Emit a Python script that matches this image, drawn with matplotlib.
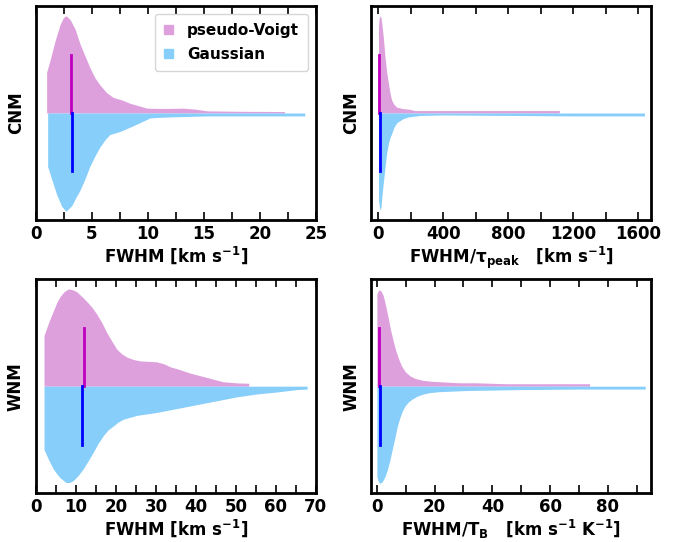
import numpy as np
import matplotlib.pyplot as plt
from matplotlib.patches import Patch
from matplotlib.ticker import MultipleLocator

plt.rcParams['font.family'] = 'DejaVu Sans'
plt.rcParams['font.weight'] = 'bold'
plt.rcParams['mathtext.fontset'] = 'dejavusans'
plt.rcParams['mathtext.default'] = 'bf'

pv_color = '#dda0dd'
ga_color = '#87cefa'

# CNM, FWHM  (x, half width of the violin, peak = 1)
cnm_fwhm_x_pv = [0.95, 1.25, 1.7, 2.15, 2.45, 2.68, 3.05, 3.5, 3.93, 4.36, 4.8, 5.27, 5.7, 6.3,
                 6.9, 7.65, 8.4, 9.3, 9.9, 10.8, 12.0, 13.1, 14.2, 15.3, 18.0, 22.2]
cnm_fwhm_w_pv = [0.42, 0.54, 0.74, 0.91, 0.98, 1.0, 0.96, 0.86, 0.71, 0.59, 0.47, 0.36, 0.29, 0.21,
                 0.16, 0.135, 0.10, 0.07, 0.05, 0.047, 0.047, 0.05, 0.04, 0.022, 0.018, 0.015]
cnm_fwhm_x_ga = [1.04, 1.4, 1.85, 2.3, 2.68, 3.2, 3.6, 3.9, 4.36, 4.8, 5.27, 5.7, 6.2, 6.6, 7.5,
                 8.1, 8.7, 9.45, 10.2, 11.0, 12.0, 15.3, 20.0, 24.0]
cnm_fwhm_w_ga = [0.55, 0.68, 0.84, 0.96, 1.01, 0.95, 0.86, 0.80, 0.68, 0.55, 0.44, 0.35, 0.27, 0.22, 0.19,
                 0.16, 0.13, 0.09, 0.05, 0.045, 0.04, 0.03, 0.03, 0.03]
cnm_fwhm_med = [3.1, 3.2]

# CNM, FWHM / tau_peak
cnm_tau_x_pv = [0.5, 4, 10, 16, 21, 30, 41, 50, 62, 72, 82, 95, 113, 150, 185, 226, 400, 800, 1115]
cnm_tau_w_pv = [0.88, 0.97, 1.0, 0.98, 0.92, 0.78, 0.57, 0.43, 0.30, 0.20, 0.13, 0.09, 0.06, 0.045,
                0.04, 0.025, 0.025, 0.025, 0.025]
cnm_tau_x_ga = [0.5, 6, 12, 17, 21, 30, 41, 50, 62, 72, 82, 95, 113, 150, 185, 260, 390, 800, 1200, 1640]
cnm_tau_w_ga = [0.89, 0.97, 1.0, 0.95, 0.86, 0.72, 0.55, 0.42, 0.31, 0.25, 0.21, 0.15, 0.10, 0.06,
                0.04, 0.025, 0.02, 0.025, 0.03, 0.03]
cnm_tau_med = [6, 7]

# WNM, FWHM
wnm_fwhm_x_pv = [2.0, 3.2, 4.3, 5.2, 6.0, 7.0, 8.1, 9.2, 10.2, 11.5, 12.7, 14.0, 15.2, 16.5, 17.7,
                 19.0, 20.2, 21.5, 22.7, 24.3, 26.0, 28.0, 30.2, 32.0, 33.5, 36.0, 38.5, 42.7,
                 46.8, 50.2, 53.2]
wnm_fwhm_w_pv = [0.52, 0.66, 0.77, 0.86, 0.92, 0.97, 1.0, 0.99, 0.97, 0.92, 0.87, 0.81, 0.74, 0.65, 0.55,
                 0.46, 0.38, 0.33, 0.30, 0.275, 0.26, 0.255, 0.25, 0.23, 0.20, 0.17, 0.135, 0.09,
                 0.045, 0.034, 0.03]
wnm_fwhm_x_ga = [2.0, 3.2, 4.3, 5.2, 6.0, 7.5, 8.4, 9.3, 10.5, 11.8, 13.0, 14.3, 15.5, 16.8, 18.0,
                 19.3, 20.5, 21.8, 23.5, 25.2, 30.2, 35.2, 40.2, 45.2, 50.2, 55.2, 60.2, 65.2, 67.8]
wnm_fwhm_w_ga = [0.65, 0.76, 0.85, 0.90, 0.94, 0.99, 0.99, 0.97, 0.92, 0.85, 0.77, 0.68, 0.59, 0.51, 0.45,
                 0.41, 0.37, 0.34, 0.32, 0.30, 0.27, 0.23, 0.19, 0.15, 0.11, 0.08, 0.06, 0.035, 0.03]
wnm_fwhm_med = [12.0, 11.5]

# WNM, FWHM / T_B
wnm_tb_x_pv = [0.0, 0.7, 1.4, 2.2, 3.1, 4.0, 4.8, 5.7, 6.5, 7.4, 8.5, 9.8, 11.5, 13.2, 16.0, 19.0,
               28.3, 34.0, 45.0, 60.0, 73.7]
wnm_tb_w_pv = [0.95, 0.99, 0.98, 0.93, 0.82, 0.69, 0.57, 0.46, 0.37, 0.29, 0.21, 0.15, 0.105, 0.08,
               0.06, 0.05, 0.035, 0.035, 0.025, 0.025, 0.025]
wnm_tb_x_ga = [0.0, 0.5, 1.0, 1.9, 2.8, 3.6, 4.5, 5.4, 6.3, 7.1, 8.0, 8.9, 9.8, 11.0, 12.1, 13.8,
               15.6, 18.0, 21.4, 30.6, 50.0, 70.0, 93.0]
wnm_tb_w_ga = [0.93, 0.98, 1.0, 0.98, 0.93, 0.86, 0.76, 0.64, 0.52, 0.41, 0.32, 0.25, 0.20, 0.16, 0.135,
               0.105, 0.085, 0.068, 0.057, 0.045, 0.035, 0.03, 0.03]
wnm_tb_med = [0.8, 1.1]

panels = [
    (cnm_fwhm_x_pv, cnm_fwhm_w_pv, cnm_fwhm_x_ga, cnm_fwhm_w_ga, cnm_fwhm_med,
     'CNM', r'FWHM [km s$^{-1}$]', (0, 25), 5, 2.5, [0.0525, 0.594, 0.408, 0.395]),
    (cnm_tau_x_pv, cnm_tau_w_pv, cnm_tau_x_ga, cnm_tau_w_ga, cnm_tau_med,
     'CNM', r'FWHM/$\tau_{\rm peak}$   [km s$^{-1}$]', (-45, 1680), 400, 200, [0.541, 0.594, 0.408, 0.395]),
    (wnm_fwhm_x_pv, wnm_fwhm_w_pv, wnm_fwhm_x_ga, wnm_fwhm_w_ga, wnm_fwhm_med,
     'WNM', r'FWHM [km s$^{-1}$]', (0, 70), 10, 5, [0.0525, 0.09, 0.408, 0.395]),
    (wnm_tb_x_pv, wnm_tb_w_pv, wnm_tb_x_ga, wnm_tb_w_ga, wnm_tb_med,
     'WNM', r'FWHM/T$_{\rm B}$   [km s$^{-1}$ K$^{-1}$]', (-2, 95), 20, 10, [0.541, 0.09, 0.408, 0.395]),
]

fig = plt.figure(figsize=(6.86, 5.42), dpi=100)

for i, (xp, wp, xg, wg, med, ylab, xlab, xlim, major, minor, pos) in enumerate(panels):
    ax = fig.add_axes(pos)
    ax.fill_between(xp, 0, wp, color=pv_color, lw=0)
    ax.fill_between(xg, 0, -np.array(wg), color=ga_color, lw=0)
    ax.plot([med[0], med[0]], [0, 0.6], color='m', lw=2)
    ax.plot([med[1], med[1]], [0, -0.6], color='b', lw=2)
    ax.set_xlim(*xlim)
    ax.set_ylim(-1.1, 1.1)
    ax.set_yticks([])
    ax.xaxis.set_major_locator(MultipleLocator(major))
    ax.xaxis.set_minor_locator(MultipleLocator(minor))
    ax.tick_params(axis='x', which='both', direction='in', top=True, length=6, width=1.2,
                   labelsize=12, pad=3.5)
    for s in ax.spines.values():
        s.set_linewidth(2)
    ax.set_xlabel(xlab, fontsize=12, fontweight='bold', labelpad=1)
    ax.set_ylabel(ylab, fontsize=12, fontweight='bold', labelpad=8)
    for t in ax.get_xticklabels():
        t.set_fontweight('bold')
    if i == 0:
        handles = [Patch(color=pv_color, label='pseudo-Voigt'),
                   Patch(color=ga_color, label='Gaussian')]
        ax.legend(handles=handles, loc='upper right', handlelength=0.6, handleheight=0.6,
                  labelspacing=0.6, borderpad=0.6, handletextpad=0.9,
                  prop={'weight': 'bold', 'size': 11})

fig.savefig('out.png', dpi=100)
